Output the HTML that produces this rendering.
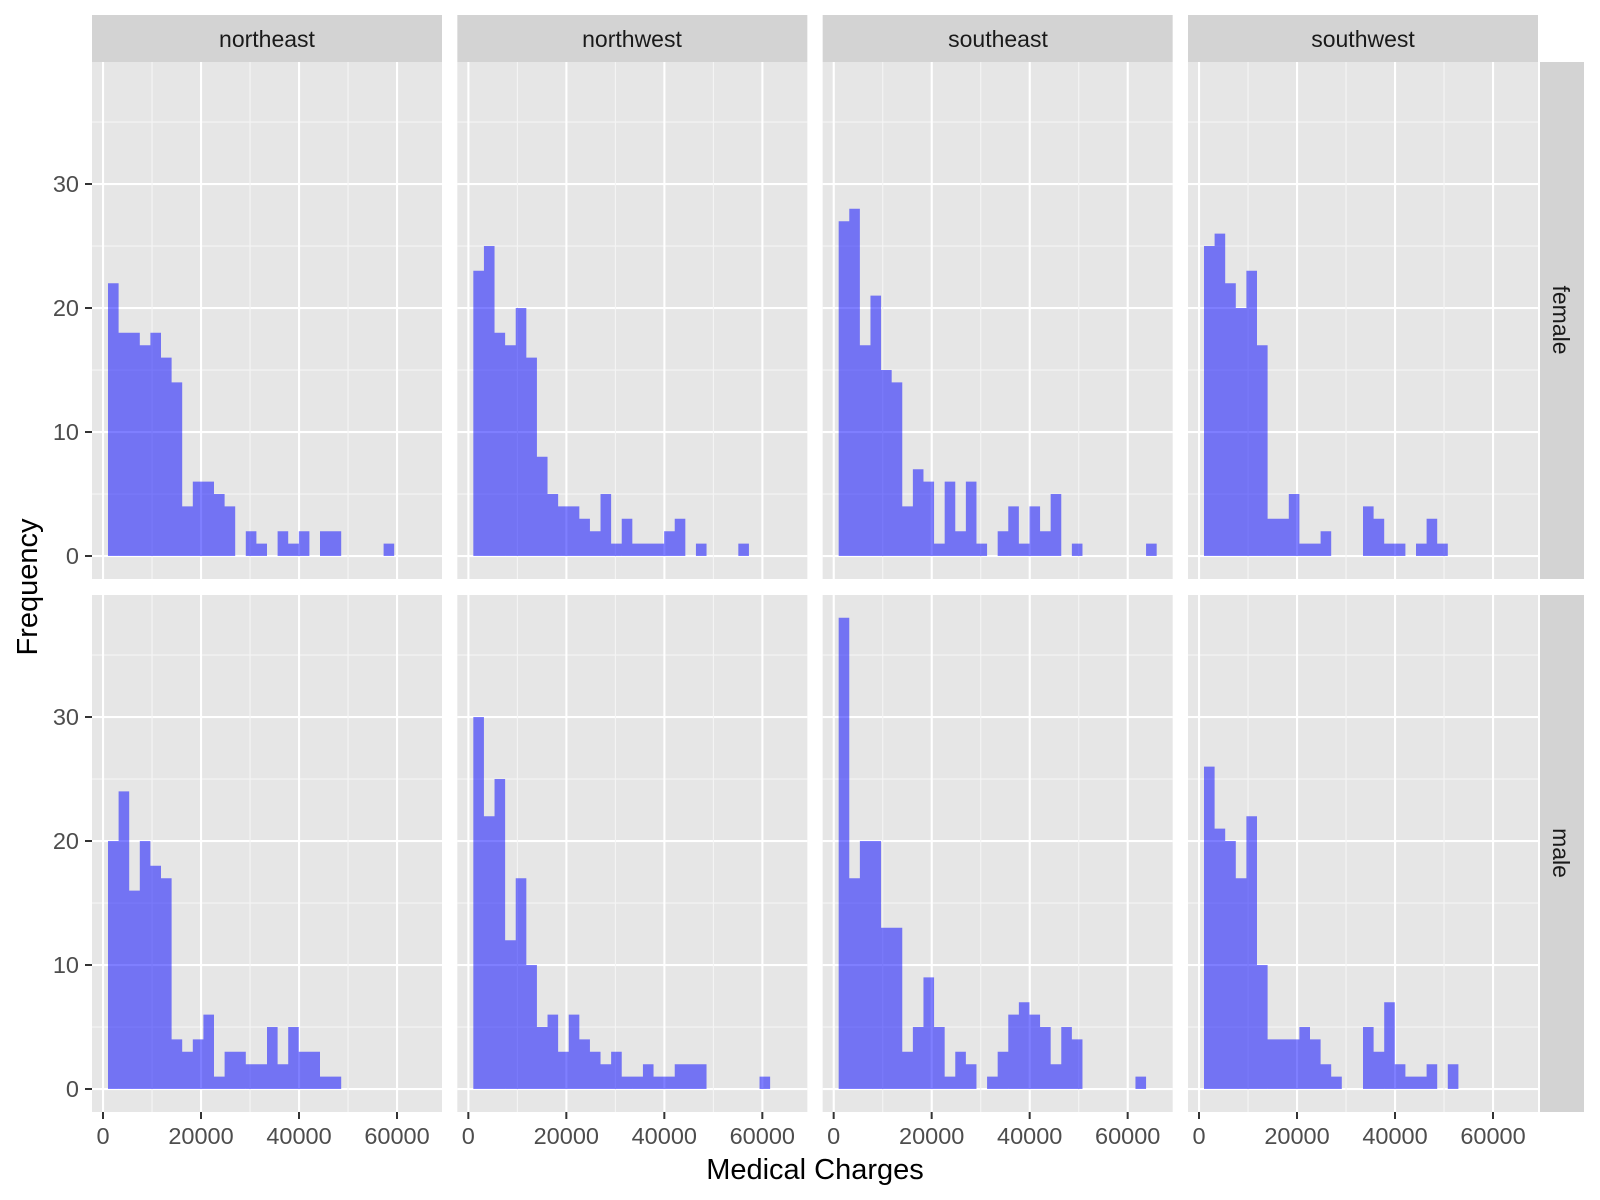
<!DOCTYPE html>
<html><head><meta charset="utf-8"><style>
html,body{margin:0;padding:0;background:#fff;}
svg{display:block;font-family:"Liberation Sans",Arial,sans-serif;}
</style></head><body>
<svg id="s" width="1600" height="1200" viewBox="0 0 1600 1200" xmlns="http://www.w3.org/2000/svg">
<g id="g"></g>
<g font-size="23" fill="#1a1a1a" text-anchor="middle" dominant-baseline="central">
<text x="267" y="39">northeast</text>
<text x="632" y="39">northwest</text>
<text x="998" y="39">southeast</text>
<text x="1363" y="39">southwest</text>
<text transform="translate(1561,320) rotate(90)">female</text>
<text transform="translate(1561,853) rotate(90)">male</text>
</g>
<g font-size="23.5" fill="#4d4d4d" text-anchor="end" dominant-baseline="central">
<text x="79" y="184">30</text><text x="79" y="308">20</text><text x="79" y="432">10</text><text x="79" y="556">0</text>
<text x="79" y="717">30</text><text x="79" y="841">20</text><text x="79" y="965">10</text><text x="79" y="1089">0</text>
</g>
<g font-size="23.5" fill="#4d4d4d" text-anchor="middle" dominant-baseline="central">
<text x="103" y="1136">0</text><text x="201" y="1136">20000</text><text x="299" y="1136">40000</text><text x="397" y="1136">60000</text>
<text x="468.3" y="1136">0</text><text x="566.3" y="1136">20000</text><text x="664.3" y="1136">40000</text><text x="762.3" y="1136">60000</text>
<text x="833.7" y="1136">0</text><text x="931.7" y="1136">20000</text><text x="1029.7" y="1136">40000</text><text x="1127.7" y="1136">60000</text>
<text x="1199" y="1136">0</text><text x="1297" y="1136">20000</text><text x="1395" y="1136">40000</text><text x="1493" y="1136">60000</text>
</g>
<text x="815" y="1170" font-size="29" fill="#000" text-anchor="middle" dominant-baseline="central">Medical Charges</text>
<text transform="translate(28,587) rotate(-90)" font-size="29" fill="#000" text-anchor="middle" dominant-baseline="central">Frequency</text>
</svg>
<script>
var g=document.getElementById('g');var NS='http://www.w3.org/2000/svg';
function el(t,a){var e=document.createElementNS(NS,t);for(var k in a)e.setAttribute(k,a[k]);g.appendChild(e);return e;}
var lefts=[92,457.33,822.67,1188],W=350;
var rows=[{top:62,bot:579,zero:556},{top:595,bot:1112,zero:1089}];
var data=[
[[22,18,18,17,18,16,14,4,6,6,5,4,0,2,1,0,2,1,2,0,2,2,0,0,0,0,1],
 [23,25,18,17,20,16,8,5,4,4,3,2,5,1,3,1,1,1,2,3,0,1,0,0,0,1],
 [27,28,17,21,15,14,4,7,6,1,6,2,6,1,0,2,4,1,4,2,5,0,1,0,0,0,0,0,0,1],
 [25,26,22,20,23,17,3,3,5,1,1,2,0,0,0,4,3,1,1,0,1,3,1]],
[[20,24,16,20,18,17,4,3,4,6,1,3,3,2,2,5,2,5,3,3,1,1],
 [30,22,25,12,17,10,5,6,3,6,4,3,2,3,1,1,2,1,1,2,2,2,0,0,0,0,0,1],
 [38,17,20,20,13,13,3,5,9,5,1,3,2,0,1,3,6,7,6,5,2,5,4,0,0,0,0,0,1],
 [26,21,20,17,22,10,4,4,4,5,4,2,1,0,0,5,3,7,2,1,1,2,0,2]]];
// strips
lefts.forEach(function(L){el('rect',{x:L,y:15,width:W,height:47,fill:'#d3d3d3'});});
rows.forEach(function(r){el('rect',{x:1540,y:r.top,width:44,height:r.bot-r.top,fill:'#d3d3d3'});});
rows.forEach(function(r,ri){
 lefts.forEach(function(L,ci){
  el('rect',{x:L,y:r.top,width:W,height:r.bot-r.top,fill:'#e6e6e6'});
  var x0=L+11;
  // minor y
  for(var v=-5;v<=40;v+=10){var y=r.zero-12.4*v;if(y>r.top&&y<r.bot)el('rect',{x:L,y:y-0.5,width:W,height:1.1,fill:'#f5f5f5'});}
  for(var v=0;v<=40;v+=10){var y=r.zero-12.4*v;if(y>r.top&&y<r.bot)el('rect',{x:L,y:y-1,width:W,height:2.1,fill:'#fff'});}
  for(var k=1;k<=7;k+=2){var x=x0+49*k;if(x<L+W)el('rect',{x:x-0.5,y:r.top,width:1.1,height:r.bot-r.top,fill:'#f5f5f5'});}
  for(var k=0;k<=6;k+=2){var x=x0+49*k;el('rect',{x:x-1,y:r.top,width:2.1,height:r.bot-r.top,fill:'#fff'});}
  var d=data[ri][ci];var b0=L+16,bw=10.6;
  var p='';
  d.forEach(function(c,i){if(c>0){var x=b0+i*bw;var h=12.4*c;p+='M'+x.toFixed(2)+' '+(r.zero-h).toFixed(2)+'h'+bw+'v'+h.toFixed(2)+'h-'+bw+'z';}});
  el('path',{d:p,fill:'rgba(0,0,255,0.5)'});
  if(ci==0){for(var v=0;v<=30;v+=10){var y=r.zero-12.4*v;el('rect',{x:L-7,y:y-1,width:7,height:2,fill:'#333'});}}
  if(ri==1){for(var k=0;k<=6;k+=2){var x=x0+49*k;el('rect',{x:x-1,y:1112,width:2,height:7,fill:'#333'});}}
 });
});
</script>
</body></html>
